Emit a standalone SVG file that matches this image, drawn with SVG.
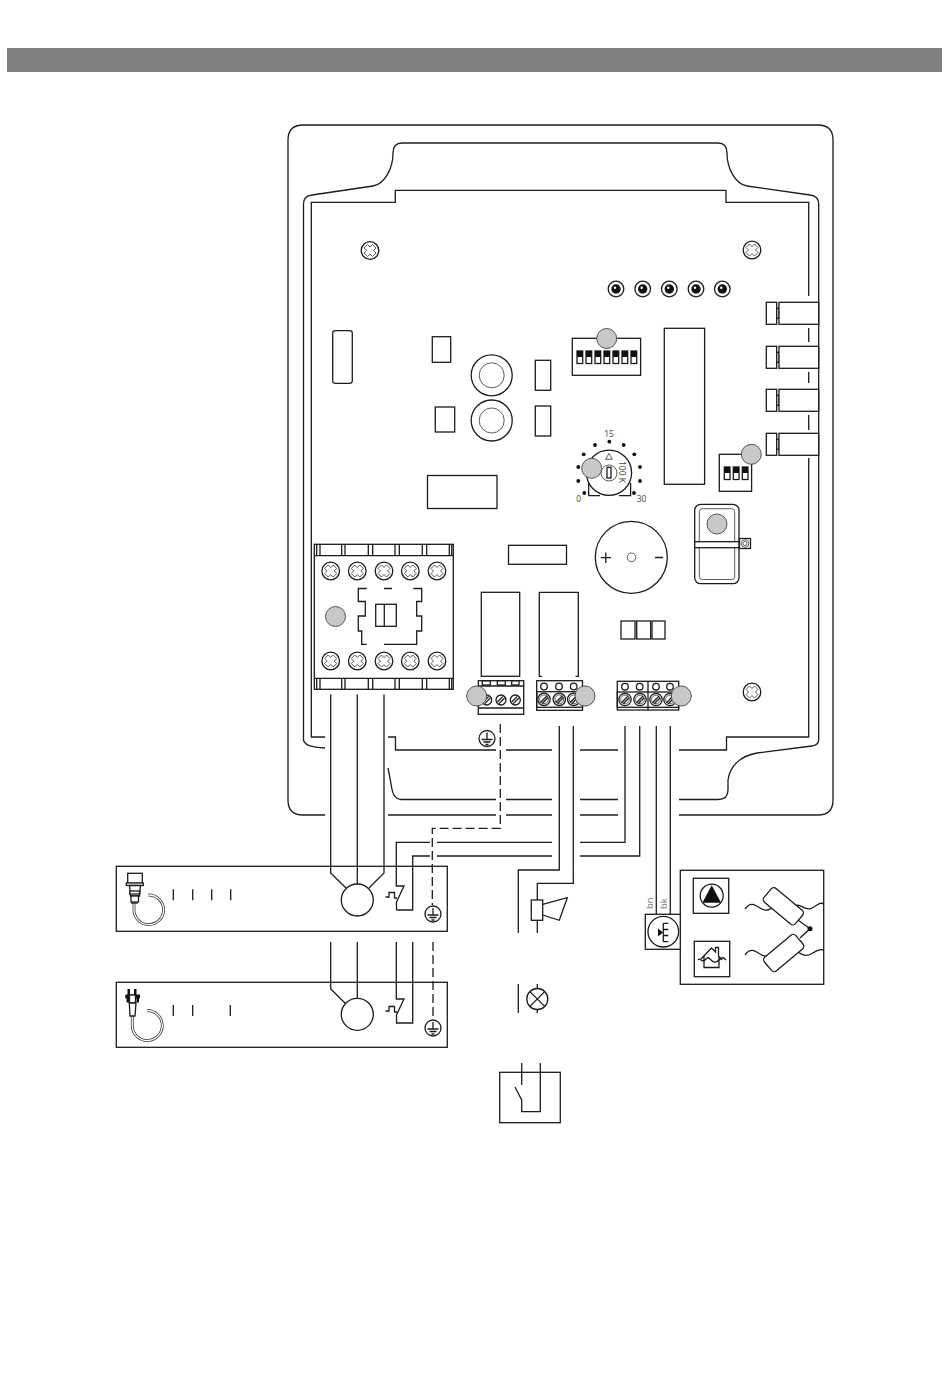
<svg xmlns="http://www.w3.org/2000/svg" width="950" height="1387" viewBox="0 0 950 1387">
<style>
.l{fill:none;stroke:#1c1c1c;stroke-width:1.3}
.b{fill:#fff;stroke:#1c1c1c;stroke-width:1.3}
.t{fill:none;stroke:#333;stroke-width:.8}
.k{fill:#111;stroke:none}
.w{fill:none;stroke:#1c1c1c;stroke-width:1.3}
.g{fill:#c8c8c8;stroke:#555;stroke-width:1}
.d{stroke-dasharray:9 4}
.x{font-family:"Open Sans","DejaVu Sans",sans-serif;font-size:8.5px;fill:#444}
</style>
<defs>
<g id="screw"><circle r="8.8" class="l"/><path class="t" d="M-2.500-6 0-3.500 2.500-6 6-2.500 3.500 0 6 2.500 2.500 6 0 3.500-2.500 6-6 2.500-3.500 0-6-2.500Z"/></g>
<g id="led"><circle r="7.8" class="l"/><circle r="4.700" class="k"/><circle cx="-1" cy="-1.200" r="1.200" fill="#fff"/></g>
<g id="slot"><circle r="6.200" class="b"/><circle r="4.400" class="t"/><path class="l" d="M-3.600 3.200 3.200-3.600M-1.800 4.200 4.200-1.800"/></g>
<g id="slot2"><circle r="5" class="b"/><path class="l" d="M-3.600 2 2-3.600M-2 3.600 3.600-2"/></g>
<g id="sw"><rect width="5.700" height="12.500" class="b" stroke-width="1"/><rect width="5.700" height="6" class="k"/></g>
<g id="conn"><rect x="766.300" width="10.400" height="22" class="b"/><rect x="776.700" y="6" width="2.400" height="10" class="b"/><rect x="779" width="39.700" height="22" class="b"/></g>
<g id="earth"><circle r="8" class="l"/><path class="l" d="M0-6V1M-5.500 1H5.500M-3.500 3.500H3.500M-1.500 6H1.500"/></g>
<g id="bimetal"><path class="l" d="M-13.500-1H-10V-5.500H-4.500V0H-2"/></g>
</defs>
<rect id="header" x="7" y="48" width="935" height="24" fill="#7f7f7f"/>
<g id="enclosure">
<path class="l" stroke-width="1.500" d="M325 815H303Q288 815 288 800V140Q288 125 303 125H818Q833 125 833 140V800Q833 815 818 815H679M388 815H496M506 815H552M580 815H618"/>
<path class="l" d="M325 748C312 747 305 746 303.500 740V204Q303.500 196 312 195L373 186C385 184 393 168 393 153Q393 143 402 143H718Q727 143 727 153C727 168 735 184 747 186L810 195Q818.700 196 818.700 204V740Q818.700 745 811.700 746L757 753C740 756 730 766 728 780V790Q728 799.500 718 799.500H679M618 799.500H580M552 799.500H506M496 799.500H401C393 799 392 790 391 784 390 778 389 773 388 768"/>
<path class="l" d="M325 737H311.300V202.300H395.300V190.300H726V202.300H808.700V296M808.700 328V342M808.700 372V383M808.700 415V430M808.700 458V737H726.500V750H679M618 750H580M552 750H506M496 750H395.500V737H388"/>
</g>
<g id="screws"><use href="#screw" x="370" y="250.500"/><use href="#screw" x="752" y="250"/><use href="#screw" x="752" y="692"/></g>
<g id="leds"><use href="#led" x="616" y="289"/><use href="#led" x="642.700" y="289"/><use href="#led" x="669.300" y="289"/><use href="#led" x="696" y="289"/><use href="#led" x="722.300" y="289"/></g>
<g id="connectors"><use href="#conn" y="302.300"/><use href="#conn" y="346.300"/><use href="#conn" y="389.300"/><use href="#conn" y="433.300"/></g>
<g id="pcb-parts">
<rect class="b" x="332.700" y="330.700" width="19.600" height="52.600" rx="2.500"/>
<rect class="b" x="432.300" y="336.700" width="18.400" height="25.600"/>
<rect class="b" x="435.300" y="407" width="19.400" height="25"/>
<rect class="b" x="535.300" y="360.300" width="15.400" height="30"/>
<rect class="b" x="535.300" y="406" width="15.400" height="30"/>
<rect class="b" x="427.500" y="475.500" width="69.500" height="33"/>
<rect class="b" x="508.500" y="545.300" width="58" height="19"/>
<rect class="b" x="664.300" y="328.300" width="40.300" height="156"/>
<rect class="b" x="621" y="621" width="14" height="18"/><rect class="b" x="636.700" y="621" width="14" height="18"/><rect class="b" x="652" y="621" width="13" height="18"/>
</g>
<g id="capacitors"><circle class="b" stroke-width="1.500" cx="491.700" cy="375.300" r="20.500"/><circle class="t" cx="491.700" cy="375.300" r="12.500"/><circle class="b" stroke-width="1.500" cx="491.700" cy="420.500" r="20.500"/><circle class="t" cx="491.700" cy="420.500" r="12.500"/></g>
<g id="dip7"><rect class="b" x="572.300" y="338.300" width="68.300" height="37"/>
<use href="#sw" x="577" y="351"/><use href="#sw" x="586" y="351"/><use href="#sw" x="595" y="351"/><use href="#sw" x="604" y="351"/><use href="#sw" x="613" y="351"/><use href="#sw" x="622" y="351"/><use href="#sw" x="631" y="351"/>
<circle class="g" cx="606.700" cy="338.500" r="10"/></g>
<g id="dip3"><rect class="b" x="719.300" y="454.300" width="32.300" height="37"/><use href="#sw" x="724.300" y="467"/><use href="#sw" x="733.300" y="467"/><use href="#sw" x="742.300" y="467"/><circle class="g" cx="751.300" cy="454.300" r="10"/></g>
<g id="pot">
<path class="l" d="M588.700 483V495.700H600M619 495.700H630.600V483"/>
<circle class="b" cx="609" cy="472.700" r="22.600"/>
<circle class="t" cx="609" cy="473" r="8"/><rect class="b" x="607" y="467.300" width="4" height="10.700"/>
<path class="t" d="M609 453.300 612.300 459.300H605.700Z"/>
<g class="k"><circle cx="609.300" cy="441.700" r="1.900"/><circle cx="595" cy="445" r="1.900"/><circle cx="623.700" cy="445" r="1.900"/><circle cx="583.700" cy="454.300" r="1.900"/><circle cx="634.300" cy="454.300" r="1.900"/><circle cx="578.300" cy="467" r="1.900"/><circle cx="640" cy="467" r="1.900"/><circle cx="578.300" cy="481" r="1.900"/><circle cx="640" cy="481" r="1.900"/><circle cx="584.300" cy="493" r="1.900"/><circle cx="634" cy="493" r="1.900"/></g>
<text class="x" x="609" y="436.500" text-anchor="middle">15</text>
<text class="x" x="578.700" y="502" text-anchor="middle">0</text>
<text class="x" x="641.500" y="502" text-anchor="middle">30</text>
<text class="x" transform="translate(618.500 472) rotate(90)" text-anchor="middle">100 K</text>
<circle class="g" cx="591.700" cy="468.300" r="10"/>
</g>
<g id="buzzer"><circle class="b" cx="631.300" cy="557.300" r="36"/><circle class="t" cx="631.500" cy="557.300" r="4.300"/><path class="l" stroke-width="2" d="M600.700 557.700H611M605.800 552.500V563M655 557.500H663"/></g>
<g id="rocker"><rect class="b" x="694.700" y="504.300" width="44.300" height="79.400" rx="6"/><rect class="t" x="699.300" y="508.700" width="35.400" height="70.800" rx="3"/><rect class="b" x="694.700" y="541.700" width="44.300" height="6"/><circle class="g" cx="717" cy="524" r="10"/><rect class="b" x="739.500" y="538.500" width="11" height="10"/><circle class="t" cx="745" cy="543.500" r="3.800"/><circle class="t" cx="745" cy="543.500" r="2"/></g>
<g id="contactor">
<rect class="b" stroke-width="1.600" x="314.300" y="544.300" width="139" height="145"/>
<path class="l" d="M314.300 555.700H453.300M314.300 678.300H453.300M316.700 544.300V555.700M320 544.300V555.700M341.700 544.300V555.700M345 544.300V555.700M368.300 544.300V555.700M372.700 544.300V555.700M395 544.300V555.700M399.300 544.300V555.700M422.300 544.300V555.700M426.700 544.300V555.700M449.300 544.300V555.700M451.700 544.300V555.700M316.700 678.300V689.300M320 678.300V689.300M341.700 678.300V689.300M345 678.300V689.300M368.300 678.300V689.300M372.700 678.300V689.300M395 678.300V689.300M399.300 678.300V689.300M422.300 678.300V689.300M426.700 678.300V689.300M449.300 678.300V689.300M451.700 678.300V689.300"/>
<use href="#screw" x="330.700" y="571"/><use href="#screw" x="357.300" y="571"/><use href="#screw" x="384" y="571"/><use href="#screw" x="410.300" y="571"/><use href="#screw" x="437" y="571"/>
<use href="#screw" x="330.700" y="661"/><use href="#screw" x="357.300" y="661"/><use href="#screw" x="384" y="661"/><use href="#screw" x="410.300" y="661"/><use href="#screw" x="437" y="661"/>
<path class="l" d="M366.700 588.500H358.300V601.500H365.300V616H358.300V631H361.700V644.300H366.700M384 588.500H392M413.300 588.500H421.700V601.500H416.700V616H421.700V631H416.700V644.300H384"/>
<rect class="l" x="375.700" y="604.300" width="20.600" height="22"/><path class="l" d="M384.300 604.300V626.300"/>
<circle class="g" cx="335.500" cy="616.500" r="10"/>
</g>
<g id="relay-1"><rect class="b" x="481.300" y="592.300" width="38.400" height="84"/></g>
<g id="relay-2"><path class="l" d="M542 676.300H539.300V592.300H578.300V676.300H575.500"/></g>
<g id="terminal-1">
<rect class="b" x="478.300" y="680.700" width="45.400" height="33.600"/><path class="l" d="M478.300 686H523.700M478.300 708H523.700"/>
<rect class="l" x="482.300" y="680.700" width="8" height="4.300"/><rect class="l" x="497.300" y="680.700" width="8" height="4.300"/><rect class="l" x="511.700" y="680.700" width="7.300" height="4.300"/>
<use href="#slot2" x="486.700" y="700"/><use href="#slot2" x="501" y="700"/><use href="#slot2" x="515.300" y="700"/>
<circle class="g" cx="476.700" cy="696" r="10"/>
</g>
<g id="terminal-2">
<rect class="b" x="536.700" y="680.700" width="45.800" height="29.600"/><rect class="l" x="536.700" y="691.700" width="45.800" height="15.600"/>
<circle class="l" cx="544" cy="686.500" r="3.300"/><circle class="l" cx="559" cy="686.500" r="3.300"/><circle class="l" cx="573.700" cy="686.500" r="3.300"/>
<use href="#slot" x="544" y="699.300"/><use href="#slot" x="559.300" y="699.300"/><use href="#slot" x="573.700" y="699.300"/>
<circle class="g" cx="585" cy="696" r="10"/>
</g>
<g id="terminal-3">
<rect class="b" x="617.300" y="681.300" width="61.400" height="28.700"/><rect class="l" x="617.300" y="692" width="61.400" height="15.300"/>
<circle class="l" cx="625" cy="686.700" r="3.300"/><circle class="l" cx="639.700" cy="686.700" r="3.300"/><circle class="l" cx="656" cy="686.700" r="3.300"/><circle class="l" cx="670" cy="686.700" r="3.300"/>
<use href="#slot" x="625" y="699.500"/><use href="#slot" x="640" y="699.500"/><use href="#slot" x="656" y="699.500"/><use href="#slot" x="670" y="699.500"/>
<path class="l" stroke-width="1.800" d="M648 681.300V710"/>
<circle class="g" cx="681.300" cy="696" r="10"/>
</g>
<g id="panel-1"><rect class="l" x="116.300" y="866.300" width="331" height="65"/><path class="l" d="M173.300 889.300V900.300M192.700 889.300V900.300M211.700 889.300V900.300M230.700 889.300V900.300"/>
<path fill="none" stroke="#333" stroke-width="2.800" d="M134 903V909A14.800 14.800 0 1 0 148.300 895"/><path fill="none" stroke="#fff" stroke-width="1.300" d="M134 903V909A14.800 14.800 0 1 0 148.300 895"/>
<rect class="b" x="127.700" y="873.300" width="14.600" height="10"/><rect class="b" x="126.300" y="883" width="17" height="2.500"/><path class="b" d="M129.500 885.500H140.500L139.500 896H130.500Z"/><rect class="b" x="129.700" y="891" width="9.800" height="3"/><rect class="b" x="131" y="896" width="7.500" height="6"/><path class="l" stroke-width="1.800" d="M131 903H138"/>
</g>
<g id="panel-2"><rect class="l" x="116.300" y="982.300" width="331" height="65"/><path class="l" d="M173.300 1005V1016M192.700 1005V1016M230.300 1005V1016"/>
<path fill="none" stroke="#333" stroke-width="2.800" d="M132.300 1016V1026A15 15 0 1 0 147 1010.500"/><path fill="none" stroke="#fff" stroke-width="1.300" d="M132.300 1016V1026A15 15 0 1 0 147 1010.500"/>
<path class="k" d="M127.500 989H130V995H127.500ZM134 989H136.500V995H134ZM125.300 994.500H140V998.500H125.300ZM126.500 998.500H129V1002.500H126.500ZM136.500 998.500H139V1002.500H136.500Z"/><rect x="129.500" y="995" width="6" height="8" class="b"/><path class="b" d="M129.300 1003H136L135 1016H130Z"/>
</g>
<g id="connector-wires">
<path class="w" stroke-width="1.500" d="M330.700 694.500V873L346 888"/><path class="w" d="M357.300 694.500V884M384 694.500V873L369 888"/>
<path class="w d" d="M500.300 724V828.300H432.300V905"/>
<path class="w" d="M559.300 726V870H518.300V933M573.300 726V883.300H537.300V900M537.300 920.300V933"/>
<path class="w" stroke-width="1.500" d="M625 726V842.300H580M552 842.300H437M430 842.300H396.300V886H404L396.500 902V910"/>
<path class="w" d="M639.700 726V856H580M552 856H437M430 856H412.700V910H396.500"/>
<path class="w" d="M656.300 726V914.300M670.300 726V914.300"/>
<path class="w" stroke-width="1.500" d="M330.700 942V989L346 1004"/><path class="w" d="M357.300 942V998M396.300 942V999H404L396.500 1015V1023H412.700V942"/>
<path class="w d" d="M433 942V1020"/>
<path class="w" d="M537.300 984V988.500M537.300 1009.500V1013M518.300 984V1013"/>
</g>
<g id="motor-1"><circle class="b" stroke-width="1.500" cx="357.300" cy="900" r="16"/><use href="#bimetal" x="399" y="898"/></g>
<g id="motor-2"><circle class="b" stroke-width="1.500" cx="357.300" cy="1014.300" r="16"/><use href="#bimetal" x="399" y="1012"/></g>
<use id="earth-1" href="#earth" x="487" y="738.500"/>
<use id="earth-2" href="#earth" x="433" y="914"/>
<use id="earth-3" href="#earth" x="433" y="1028"/>
<g id="horn"><rect class="b" x="531.300" y="900" width="11.400" height="20.300"/><path class="l" d="M542.700 904.300 567.300 897.700 559.300 920.300 542.700 915"/></g>
<g id="lamp"><circle class="l" cx="537.300" cy="999" r="10.500"/><path class="l" d="M529.900 991.600 544.700 1006.400M544.700 991.600 529.900 1006.400"/></g>
<g id="relay-box"><rect class="l" stroke-width="1.500" x="499.700" y="1072.300" width="60.600" height="50.400"/><path class="l" d="M521.700 1063V1085M540.300 1063V1111.700H521.700V1100L515 1087"/></g>
<g id="float-box"><rect class="l" x="680.300" y="870.300" width="143.400" height="114"/>
<rect class="l" x="693.300" y="878.300" width="35.400" height="35"/><circle class="l" cx="711.700" cy="895.700" r="11.500"/><path class="k" d="M711.700 885.300 721 902.700H702.400Z"/>
<rect class="l" x="694.300" y="941.300" width="35.400" height="35.400"/>
<path class="l" d="M701 959 711.500 948 715.500 952V947.500H718.500V956L722 960M704 956V967.500H719V956"/><path class="l" d="M698 960C700 957 702 963 705 960S708 957 711 960 716 963 719 960 723 957 726 960"/>
<path class="l" d="M745 909C750 902 754 904 760 908S770 910 775 906M795 906C800 902 805 912 812 908S820 902 823.700 904M745 955C750 948 754 950 760 954S770 956 775 952M793 948C798 952 804 958 811 954S820 949 823.700 950M798 920 810 928.700 800 938"/>
<rect class="b" x="-9" y="-20.500" width="18" height="41" rx="3.500" transform="translate(783.300 906.300) rotate(-50)"/>
<rect class="b" x="-9" y="-20.500" width="18" height="41" rx="3.500" transform="translate(783.700 953) rotate(50)"/>
<circle class="k" cx="810" cy="928.700" r="2.500"/>
</g>
<g id="sensor"><rect class="b" x="645.300" y="914.300" width="35" height="35"/><circle class="l" cx="663.300" cy="931.700" r="15.300"/><path class="l" d="M663.300 923.300V941.700M663.300 923.300H668.300M663.300 929.500H668.300M663.300 935.500H668.300M663.300 941.700H668.300"/><path class="k" d="M658 928.500 663 932.500 658 936.500Z"/>
<text class="x" style="fill:#777;font-size:9.500px" transform="translate(652.500 909) rotate(-90)">bn</text><text class="x" style="fill:#777;font-size:9.500px" transform="translate(666.500 909) rotate(-90)">bk</text></g>
</svg>
